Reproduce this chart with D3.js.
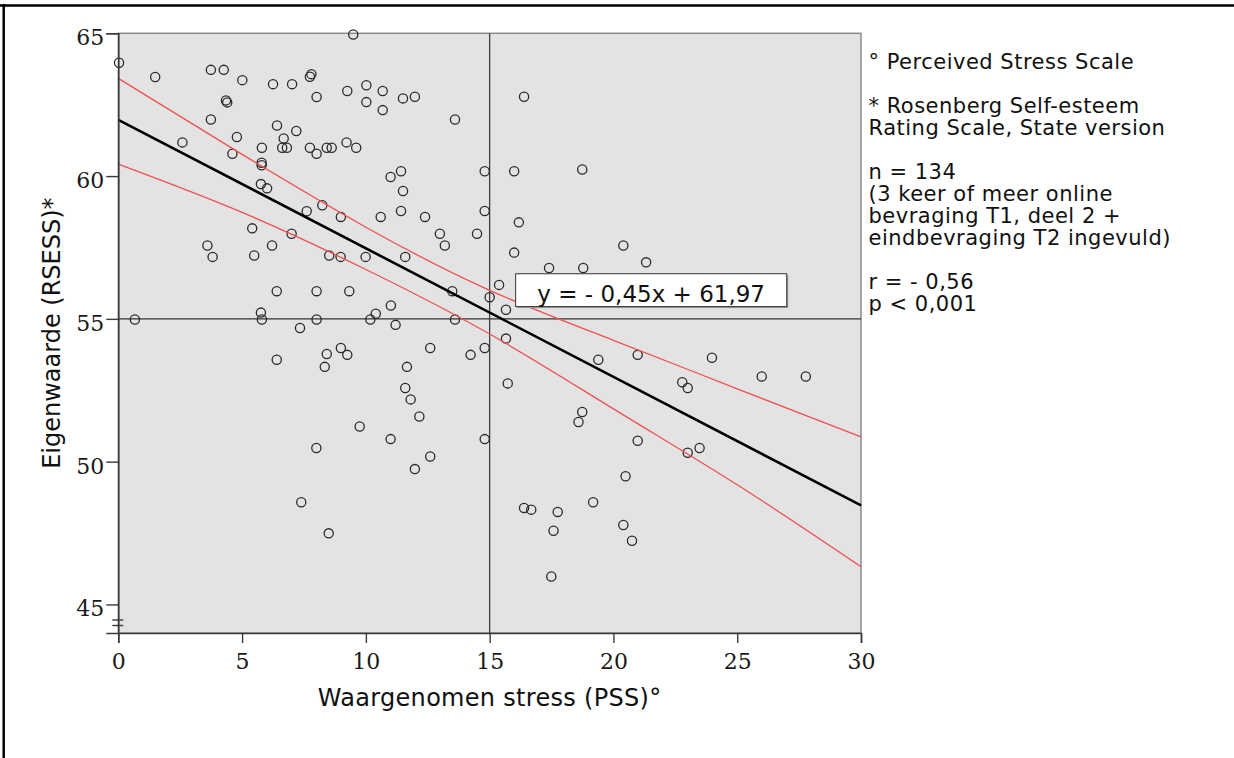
<!DOCTYPE html>
<html>
<head>
<meta charset="utf-8">
<script src="https://cdn.jsdelivr.net/npm/d3@7"></script>
<style>
  html, body { margin: 0; padding: 0; background: #fff; }
  svg { display: block; }
</style>
</head>
<body>
<div id="chart"></div>
<script>
// PSS (x) and RSESS (y) per respondent
const pssScores = [
  0.03, 9.49, 1.49, 3.74, 4.26, 5.01, 6.25, 7.02, 7.74, 7.80,
  8.01, 9.25, 10.02, 10.02, 10.68, 10.68, 11.50, 11.98, 4.35, 4.40,
  3.74, 2.59, 4.79, 4.61, 6.41, 7.19, 6.68, 6.62, 6.81, 5.80,
  5.79, 5.79, 7.74, 8.01, 8.42, 8.62, 9.22, 9.61, 11.00, 11.42,
  11.50, 11.42, 10.60, 8.99, 8.24, 7.61, 5.76, 6.01, 5.41, 3.60,
  3.81, 5.49, 6.21, 7.00, 8.52, 8.98, 9.99, 11.59, 6.40, 8.01,
  9.33, 11.01, 10.40, 10.18, 5.76, 5.80, 8.01, 0.67, 7.34, 11.20,
  13.60, 16.39, 14.80, 15.99, 18.74, 14.80, 12.39, 12.99, 13.19, 14.49,
  16.18, 15.99, 20.40, 21.32, 17.40, 18.78, 15.38, 13.49, 15.00, 15.66,
  13.60, 6.40, 8.42, 8.34, 8.99, 9.25, 11.66, 11.59, 11.81, 12.16,
  9.75, 11.00, 8.00, 11.98, 7.39, 8.50, 12.60, 14.23, 14.80, 15.66,
  15.73, 19.39, 20.98, 23.98, 25.99, 27.77, 22.78, 23.00, 18.74, 18.59,
  14.80, 20.98, 23.48, 23.00, 12.60, 20.49, 19.18, 16.39, 16.68, 17.75,
  17.58, 20.40, 20.75, 17.49
]
const rsessScores = [
  63.97, 64.96, 63.47, 63.72, 63.72, 63.36, 63.22, 63.22, 63.48, 63.57,
  62.77, 62.98, 63.18, 62.59, 62.98, 62.31, 62.72, 62.78, 62.65, 62.58,
  61.98, 61.18, 61.37, 60.78, 61.77, 61.58, 61.32, 60.99, 60.99, 60.99,
  60.47, 60.38, 60.99, 60.78, 60.99, 60.99, 61.18, 60.99, 59.97, 60.17,
  59.48, 58.78, 58.57, 58.57, 58.98, 58.77, 59.72, 59.57, 58.17, 57.57,
  57.17, 57.22, 57.57, 57.98, 57.22, 57.17, 57.17, 57.17, 55.97, 55.97,
  55.97, 55.47, 55.18, 54.98, 55.22, 54.98, 54.98, 54.98, 54.68, 54.79,
  61.98, 62.78, 60.17, 60.17, 60.23, 58.78, 58.57, 57.98, 57.57, 57.98,
  58.38, 57.32, 57.57, 56.98, 56.78, 56.78, 56.19, 55.97, 55.76, 55.32,
  54.98, 53.57, 53.77, 53.32, 53.98, 53.74, 53.32, 52.58, 52.18, 51.58,
  51.23, 50.79, 50.48, 49.74, 48.58, 47.49, 53.98, 53.74, 53.98, 54.31,
  52.74, 53.57, 53.74, 53.64, 52.98, 52.98, 52.78, 52.58, 51.74, 51.39,
  50.79, 50.73, 50.48, 50.31, 50.18, 49.49, 48.58, 48.38, 48.32, 48.24,
  47.58, 47.78, 47.23, 45.98
]

const xTicks = [0, 5, 10, 15, 20, 25, 30]
const yTicks = [45, 50, 55, 60, 65]

// 95% band around the fit line, read at each x tick
const bandX = [0, 5, 10, 15, 20, 25, 30]
const bandUpper = [63.42, 60.76, 58.21, 56.0, 54.25, 52.55, 50.87]
const bandLower = [60.42, 58.73, 56.73, 54.47, 51.85, 49.19, 46.32]

const slope = -0.45
const intercept = 61.97
const refX = 15
const refY = 55

const equationLabel = 'y = - 0,45x + 61,97'
const xTitle = 'Waargenomen stress (PSS)°'
const yTitle = 'Eigenwaarde (RSESS)*'
const notes = [
  '° Perceived Stress Scale',
  '',
  '* Rosenberg Self-esteem',
  'Rating Scale, State version',
  '',
  'n = 134',
  '(3 keer of meer online',
  'bevraging T1, deel 2 +',
  'eindbevraging T2 ingevuld)',
  '',
  'r = - 0,56',
  'p < 0,001'
]

const W = 1234, H = 758
const sans = 'Verdana, "DejaVu Sans", sans-serif'
const serif = '"DejaVu Serif", serif'

const svg = d3.select('#chart').append('svg')
  .attr('width', W)
  .attr('height', H)

// outer frame (top and left edges only)
svg.append('line').attr('x1', 0).attr('x2', W).attr('y1', 5.5).attr('y2', 5.5)
  .attr('stroke', '#000').attr('stroke-width', 2.5)
svg.append('line').attr('x1', 3.7).attr('x2', 3.7).attr('y1', 4).attr('y2', H)
  .attr('stroke', '#000').attr('stroke-width', 2.5)

const x = d3.scaleLinear().domain([0, 30]).range([118.3, 861])
const y = d3.scaleLinear().domain([44, 65]).range([633, 33.3])

// plot background
svg.append('rect')
  .attr('x', x(0)).attr('y', y(65))
  .attr('width', x(30) - x(0)).attr('height', y(44) - y(65))
  .attr('fill', '#e3e3e3')
  .attr('stroke', '#8c8c8c')
  .attr('stroke-width', 1.5)

// reference lines
svg.append('line')
  .attr('x1', x(refX)).attr('x2', x(refX))
  .attr('y1', y(65)).attr('y2', y(44))
  .attr('stroke', '#333').attr('stroke-width', 1.2)
svg.append('line')
  .attr('x1', x(0)).attr('x2', x(30))
  .attr('y1', y(refY)).attr('y2', y(refY))
  .attr('stroke', '#333').attr('stroke-width', 1.2)

// points
const pts = pssScores.map((v, i) => [v, rsessScores[i]])
svg.append('g').selectAll('circle')
  .data(pts)
  .enter()
  .append('circle')
  .attr('cx', d => x(d[0]))
  .attr('cy', d => y(d[1]))
  .attr('r', 4.6)
  .attr('fill', 'none')
  .attr('stroke', '#2a2a2a')
  .attr('stroke-width', 1.3)

// confidence band
const bandLine = d3.line()
  .x(d => x(d[0]))
  .y(d => y(d[1]))
  .curve(d3.curveNatural)
;[bandUpper, bandLower].forEach(arr => {
  svg.append('path')
    .attr('d', bandLine(bandX.map((v, i) => [v, arr[i]])))
    .attr('fill', 'none')
    .attr('stroke', '#f05050')
    .attr('stroke-width', 1.3)
})

// fit line
svg.append('path')
  .attr('d', d3.line().x(d => x(d)).y(d => y(intercept + slope * d))([0, 30]))
  .attr('stroke', '#000')
  .attr('stroke-width', 2.6)
  .attr('fill', 'none')

// equation label
const boxX0 = 16.05, boxX1 = 27.0, boxY0 = 56.58, boxY1 = 55.43
svg.append('rect')
  .attr('x', x(boxX0) + 1.5).attr('y', y(boxY0) + 1.5)
  .attr('width', x(boxX1) - x(boxX0)).attr('height', y(boxY1) - y(boxY0))
  .attr('fill', '#9a9a9a')
svg.append('rect')
  .attr('x', x(boxX0)).attr('y', y(boxY0))
  .attr('width', x(boxX1) - x(boxX0)).attr('height', y(boxY1) - y(boxY0))
  .attr('fill', '#fff')
  .attr('stroke', '#333')
  .attr('stroke-width', 1)
svg.append('text')
  .attr('x', (x(boxX0) + x(boxX1)) / 2)
  .attr('y', y(boxY1) - 4.5)
  .attr('text-anchor', 'middle')
  .style('font-family', sans)
  .style('font-size', '23px')
  .attr('fill', '#111')
  .text(equationLabel)

// axes
const xAxis = svg.append('g')
  .attr('transform', `translate(0,${y(44)})`)
  .call(d3.axisBottom(x).tickValues(xTicks).tickSize(10).tickPadding(10))
const yAxis = svg.append('g')
  .attr('transform', `translate(${x(0)},0)`)
  .call(d3.axisLeft(y).tickValues(yTicks).tickSize(12).tickPadding(2))

;[xAxis, yAxis].forEach(g => {
  g.select('.domain').attr('stroke', '#3a3a3a').attr('stroke-width', 1.6)
  g.selectAll('.tick line').attr('stroke', '#3a3a3a').attr('stroke-width', 1.4)
  g.selectAll('.tick text')
    .style('font-family', serif)
    .style('font-size', '22px')
    .attr('fill', '#1a1a1a')
})
yAxis.selectAll('.tick text').attr('dy', '0.52em')
xAxis.selectAll('.tick text').attr('dy', '0.71em')

// axis break marks
;[620, 625.5].forEach(yy => {
  svg.append('line')
    .attr('x1', x(0) - 6).attr('x2', x(0) + 5)
    .attr('y1', yy).attr('y2', yy)
    .attr('stroke', '#3a3a3a').attr('stroke-width', 1.4)
})

// axis titles
svg.append('text')
  .attr('x', (x(0) + x(30)) / 2)
  .attr('y', 706)
  .attr('text-anchor', 'middle')
  .style('font-family', sans)
  .style('font-size', '24px')
  .style('letter-spacing', '0.3px')
  .attr('fill', '#111')
  .text(xTitle)
svg.append('text')
  .attr('transform', `translate(60,${(y(44) + y(65)) / 2}) rotate(-90)`)
  .attr('text-anchor', 'middle')
  .style('font-family', sans)
  .style('font-size', '24px')
  .attr('fill', '#111')
  .text(yTitle)

// side notes
svg.append('g').selectAll('text')
  .data(notes)
  .enter()
  .append('text')
  .attr('x', 868.5)
  .attr('y', (d, i) => 69.3 + i * 22)
  .style('font-family', sans)
  .style('font-size', '21px')
  .style('letter-spacing', '0.5px')
  .attr('fill', '#111')
  .text(d => d)
</script>
</body>
</html>
